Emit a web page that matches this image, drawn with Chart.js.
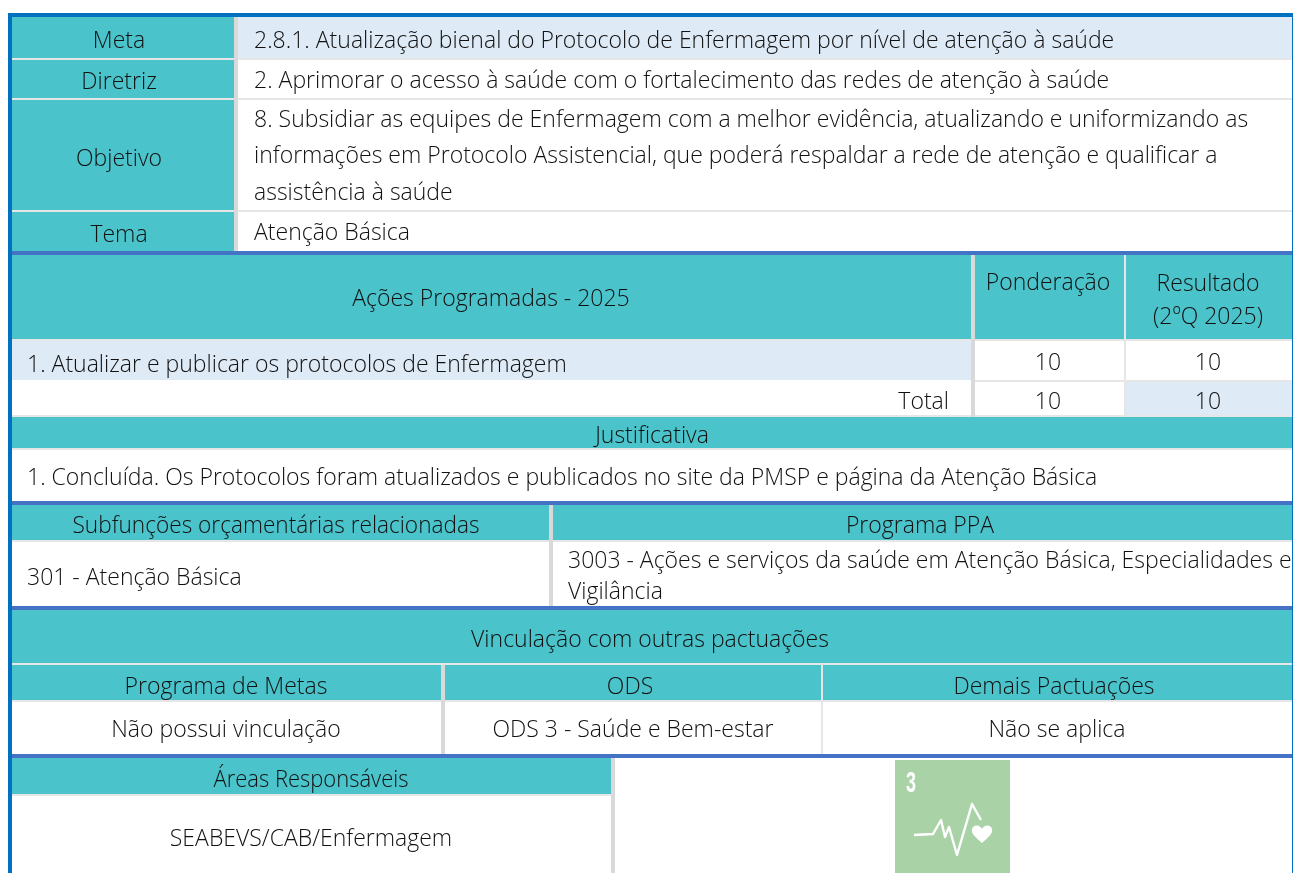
<!DOCTYPE html>
<html lang="pt-BR">
<head>
  <meta charset="UTF-8" />
  <title>Meta 2.8.1</title>
  <script src="https://cdn.jsdelivr.net/npm/chart.js"></script>
  <style>
    html, body { margin: 0; padding: 0; background: #fff; overflow: hidden; }
    canvas { display: block; }
  </style>
</head>
<body>
  <canvas id="tableChart" width="1293" height="873"></canvas>

  <script>
    // table content
    const metaLabels = ["Meta", "Diretriz", "Objetivo", "Tema"];
    const metaTexts = [
      "2.8.1. Atualização bienal do Protocolo de Enfermagem por nível de atenção à saúde",
      "2. Aprimorar o acesso à saúde com o fortalecimento das redes de atenção à saúde",
      "8. Subsidiar as equipes de Enfermagem com a melhor evidência, atualizando e uniformizando as",
      "informações em Protocolo Assistencial, que poderá respaldar a rede de atenção e qualificar a",
      "assistência à saúde",
      "Atenção Básica"
    ];
    const actionHeaders = ["Ações Programadas - 2025", "Ponderação", "Resultado", "(2ºQ 2025)"];
    const actionNames = ["1. Atualizar e publicar os protocolos de Enfermagem", "Total"];
    const weights = [10, 10];
    const results = [10, 10];
    const justification = ["Justificativa", "1. Concluída. Os Protocolos foram atualizados e publicados no site da PMSP e página da Atenção Básica"];
    const budgetHeaders = ["Subfunções orçamentárias relacionadas", "Programa PPA"];
    const budgetTexts = ["301 - Atenção Básica", "3003 - Ações e serviços da saúde em Atenção Básica, Especialidades e", "Vigilância"];
    const linkHeaders = ["Vinculação com outras pactuações", "Programa de Metas", "ODS", "Demais Pactuações"];
    const linkTexts = ["Não possui vinculação", "ODS 3 - Saúde e Bem-estar", "Não se aplica"];
    const areaHeader = "Áreas Responsáveis";
    const areaText = "SEABEVS/CAB/Enfermagem";

    const TEAL = "#4BC3CB", PALE = "#DEEAF6", LINE = "#E7E6E6", VLINE = "#D9D9D9", BLUE = "#4472C4", EDGE = "#0070C0";

    // every filled cell: x0, x1, y0, y1, colour (page pixels, the scales are 1:1)
    const cells = [
      [8, 1293, 13, 17, EDGE], [8, 12, 17, 873, EDGE], [1292, 1293, 17, 873, EDGE],
      // meta block
      [12, 234, 17, 58, TEAL], [12, 234, 60, 98, TEAL], [12, 234, 100, 210, TEAL], [12, 234, 212, 251, TEAL],
      [12, 234, 58, 60, LINE], [12, 234, 98, 100, LINE], [12, 234, 210, 212, LINE],
      [234, 238, 17, 251, VLINE],
      [238, 1292, 17, 58, PALE], [238, 1292, 58, 60, LINE], [238, 1292, 98, 100, LINE], [238, 1292, 210, 212, LINE],
      [12, 1292, 251, 255, BLUE],
      // actions block
      [12, 971, 255, 339, TEAL], [975, 1124, 255, 339, TEAL], [1126, 1292, 255, 339, TEAL],
      [971, 975, 255, 417, VLINE], [1124, 1126, 255, 417, LINE],
      [12, 971, 339, 341, LINE], [975, 1124, 339, 341, LINE], [1126, 1292, 339, 341, LINE],
      [12, 971, 341, 380, PALE],
      [975, 1124, 380, 382, LINE], [1126, 1292, 380, 382, LINE],
      [1126, 1292, 382, 415, PALE],
      [12, 971, 415, 417, LINE], [975, 1124, 415, 417, LINE], [1126, 1292, 415, 417, LINE],
      // justification
      [12, 1292, 417, 448, TEAL], [12, 1292, 448, 450, LINE], [12, 1292, 501, 505, BLUE],
      // budget block
      [12, 549, 505, 540, TEAL], [553, 1292, 505, 540, TEAL],
      [549, 553, 505, 606, VLINE], [12, 549, 540, 542, LINE], [553, 1292, 540, 542, LINE],
      [12, 1292, 606, 610, BLUE],
      // links block
      [12, 1292, 610, 663, TEAL], [12, 1292, 663, 665, LINE],
      [12, 441, 665, 700, TEAL], [445, 821, 665, 700, TEAL], [823, 1292, 665, 700, TEAL],
      [441, 445, 665, 754, VLINE], [821, 823, 665, 754, LINE],
      [12, 441, 700, 702, LINE], [445, 821, 700, 702, LINE], [823, 1292, 700, 702, LINE],
      [12, 1292, 754, 758, BLUE],
      // areas block
      [12, 611, 758, 794, TEAL], [12, 611, 794, 796, LINE], [611, 615, 758, 873, VLINE],
      // ODS 3 tile
      [895, 1010, 760, 873, "#A9D3A7"]
    ];

    // text placements: string, x, baseline, align, optional max width
    const labels = [
      [metaLabels[0], 119, 48, "center"], [metaLabels[1], 119, 89, "center"], [metaLabels[2], 119, 166, "center"], [metaLabels[3], 119, 242, "center"],
      [metaTexts[0], 254, 48, "left"], [metaTexts[1], 254, 88, "left"], [metaTexts[2], 254, 127, "left"],
      [metaTexts[3], 254, 163, "left"], [metaTexts[4], 254, 200, "left"], [metaTexts[5], 254, 240, "left"],
      [actionHeaders[0], 491, 306, "center"], [actionHeaders[1], 1048, 290, "center"],
      [actionHeaders[2], 1208, 291, "center"], [actionHeaders[3], 1208, 324, "center"],
      [actionNames[0], 27, 372, "left"], [actionNames[1], 949, 409, "right"],
      [String(weights[0]), 1048, 370, "center"], [String(results[0]), 1208, 370, "center"],
      [String(weights[1]), 1048, 409, "center"], [String(results[1]), 1208, 409, "center"],
      [justification[0], 652, 443, "center"], [justification[1], 27, 485, "left"],
      [budgetHeaders[0], 276, 533, "center", 407], [budgetHeaders[1], 920, 533, "center"],
      [budgetTexts[0], 27, 585, "left"], [budgetTexts[1], 568, 568, "left"], [budgetTexts[2], 568, 599, "left"],
      [linkHeaders[0], 650, 647, "center"], [linkHeaders[1], 226, 694, "center"],
      [linkHeaders[2], 630, 694, "center"], [linkHeaders[3], 1054, 694, "center"],
      [linkTexts[0], 226, 737, "center"], [linkTexts[1], 633, 737, "center"], [linkTexts[2], 1057, 737, "center"],
      [areaHeader, 311, 787, "center", 195], [areaText, 311, 846, "center"]
    ];

    const tableText = {
      id: "tableText",
      afterDatasetsDraw(chart) {
        const { ctx, scales: { x, y } } = chart;
        const px = (a) => x.getPixelForValue(a);
        const py = (b) => y.getPixelForValue(b);
        ctx.save();
        ctx.font = "300 23px 'Open Sans'";
        ctx.fillStyle = "#111";
        labels.forEach(([text, a, b, align, maxWidth]) => {
          ctx.textAlign = align;
          if (maxWidth) ctx.fillText(text, px(a), py(b), maxWidth);
          else ctx.fillText(text, px(a), py(b));
        });

        // ODS 3 tile artwork
        ctx.fillStyle = "#fff";
        ctx.strokeStyle = "#fff";
        ctx.save();
        ctx.translate(px(906), py(792));
        ctx.scale(0.62, 1);
        ctx.font = "bold 29px 'Liberation Sans'";
        ctx.textAlign = "left";
        ctx.fillText("3", 0, 0);
        ctx.restore();
        ctx.lineWidth = 2.4;
        ctx.lineJoin = "round";
        ctx.beginPath();
        [[914, 835], [933, 834], [941, 820], [945, 837], [949, 827], [957, 855], [972, 804], [981, 820]].forEach(([a, b], i) => {
          if (i) ctx.lineTo(px(a), py(b));
          else ctx.moveTo(px(a), py(b));
        });
        ctx.stroke();
        ctx.beginPath();
        ctx.moveTo(px(982), py(843));
        ctx.bezierCurveTo(px(974), py(836), px(971), py(833), px(972), py(829));
        ctx.bezierCurveTo(px(974), py(824), px(980), py(825), px(982), py(829));
        ctx.bezierCurveTo(px(984), py(825), px(990), py(824), px(992), py(829));
        ctx.bezierCurveTo(px(993), py(833), px(990), py(836), px(982), py(843));
        ctx.fill();
        ctx.restore();
      }
    };

    new Chart(document.getElementById("tableChart"), {
      type: "bar",
      data: {
        datasets: cells.map(([x0, x1, y0, y1, color]) => ({
          data: [{ x: [x0, x1], y: (y0 + y1) / 2 }],
          backgroundColor: color,
          barThickness: y1 - y0,
          inflateAmount: 0,
          borderWidth: 0
        }))
      },
      options: {
        indexAxis: "y",
        responsive: false,
        animation: false,
        grouped: false,
        layout: { padding: 0 },
        plugins: { legend: { display: false }, tooltip: { enabled: false } },
        scales: {
          x: { type: "linear", min: 0, max: 1293, display: false },
          y: { type: "linear", min: 0, max: 873, reverse: true, display: false, offset: false }
        }
      },
      plugins: [tableText]
    });
  </script>
</body>
</html>
